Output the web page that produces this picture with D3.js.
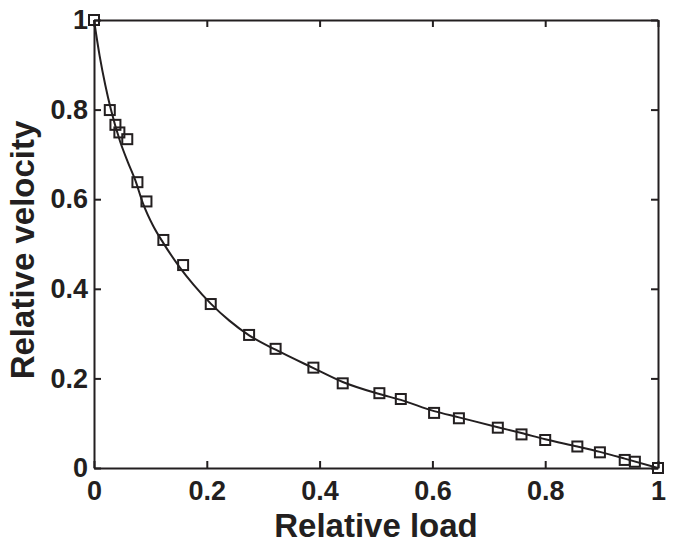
<!DOCTYPE html>
<html>
<head>
<meta charset="utf-8">
<script src="https://cdn.jsdelivr.net/npm/d3@7"></script>
<style>
  body { margin: 0; background: #fff; }
  svg { display: block; }
  .axis path, .axis line { stroke: #231f20; stroke-width: 2; }
  .axis text { font-family: "Liberation Sans", Arial, sans-serif; font-weight: bold; font-size: 27px; fill: #231f20; }
  .label { font-family: "Liberation Sans", Arial, sans-serif; font-weight: bold; font-size: 33px; fill: #231f20; }
</style>
</head>
<body>
<div id="chart"></div>
<script>
// measured points (relative load, relative velocity)
var loadPts = [0, 0.028, 0.038, 0.045, 0.059, 0.077, 0.093, 0.123, 0.158, 0.207,
               0.275, 0.322, 0.389, 0.441, 0.506, 0.544, 0.603, 0.647, 0.716, 0.758,
               0.800, 0.857, 0.897, 0.941, 0.959, 1.0];
var velPts = [1.0, 0.799, 0.766, 0.749, 0.734, 0.638, 0.595, 0.509, 0.453, 0.366,
              0.297, 0.266, 0.224, 0.189, 0.167, 0.154, 0.123, 0.111, 0.090, 0.075,
              0.0625, 0.048, 0.035, 0.018, 0.014, 0.0];

// fitted curve
var loadFit = [0, 0.01, 0.02, 0.03, 0.046, 0.06, 0.073, 0.087, 0.105, 0.123, 0.152,
               0.176, 0.207, 0.24, 0.275, 0.322, 0.389, 0.441, 0.506, 0.544, 0.603,
               0.647, 0.716, 0.758, 0.80, 0.857, 0.897, 0.941, 1.0];
var velFit = [1, 0.92, 0.855, 0.80, 0.73, 0.683, 0.643, 0.59, 0.54, 0.502, 0.448,
              0.410, 0.367, 0.329, 0.296, 0.264, 0.223, 0.192, 0.165, 0.152, 0.127,
              0.113, 0.091, 0.078, 0.064, 0.048, 0.036, 0.021, 0];

var tickVals = [0, 0.2, 0.4, 0.6, 0.8, 1];

var width = 675, height = 549;
var margin = {top: 20, right: 17, bottom: 81, left: 94},
    w = width - margin.left - margin.right,
    h = height - margin.top - margin.bottom;

var svg = d3.select("#chart").append("svg")
    .attr("width", width)
    .attr("height", height);

var g = svg.append("g")
    .attr("transform", "translate(" + margin.left + "," + margin.top + ")");

var x = d3.scaleLinear().domain([0, 1]).range([0, w]);
var y = d3.scaleLinear().domain([0, 1]).range([h, 0]);

var fmt = function(d) { return String(d); };

g.append("g")
    .attr("class", "axis")
    .attr("transform", "translate(0," + h + ")")
    .call(d3.axisBottom(x).tickValues(tickVals).tickFormat(fmt)
        .tickSizeInner(-7).tickSizeOuter(0).tickPadding(13));

g.append("g")
    .attr("class", "axis")
    .call(d3.axisLeft(y).tickValues(tickVals).tickFormat(fmt)
        .tickSizeInner(-7).tickSizeOuter(0).tickPadding(6));

g.append("g")
    .attr("class", "axis")
    .call(d3.axisTop(x).tickValues(tickVals).tickFormat("")
        .tickSizeInner(-7).tickSizeOuter(0));

g.append("g")
    .attr("class", "axis")
    .attr("transform", "translate(" + w + ",0)")
    .call(d3.axisRight(y).tickValues(tickVals).tickFormat("")
        .tickSizeInner(-7).tickSizeOuter(0));

var fit = loadFit.map(function(d, i) { return [d, velFit[i]]; });
var pts = loadPts.map(function(d, i) { return [d, velPts[i]]; });

var line = d3.line()
    .x(function(d) { return x(d[0]); })
    .y(function(d) { return y(d[1]); })
    .curve(d3.curveMonotoneX);

g.append("path")
    .datum(fit)
    .attr("fill", "none")
    .attr("stroke", "#231f20")
    .attr("stroke-width", 2)
    .attr("d", line);

var sq = 10;
g.selectAll(".pt")
    .data(pts)
    .enter().append("rect")
    .attr("class", "pt")
    .attr("x", function(d) { return x(d[0]) - sq / 2; })
    .attr("y", function(d) { return y(d[1]) - sq / 2; })
    .attr("width", sq)
    .attr("height", sq)
    .attr("fill", "none")
    .attr("stroke", "#231f20")
    .attr("stroke-width", 2);

svg.append("text")
    .attr("class", "label")
    .attr("x", margin.left + w / 2)
    .attr("y", 537)
    .attr("text-anchor", "middle")
    .text("Relative load");

svg.append("text")
    .attr("class", "label")
    .attr("transform", "translate(34," + (margin.top + h / 2 + 6) + ") rotate(-90)")
    .attr("text-anchor", "middle")
    .text("Relative velocity");
</script>
</body>
</html>
